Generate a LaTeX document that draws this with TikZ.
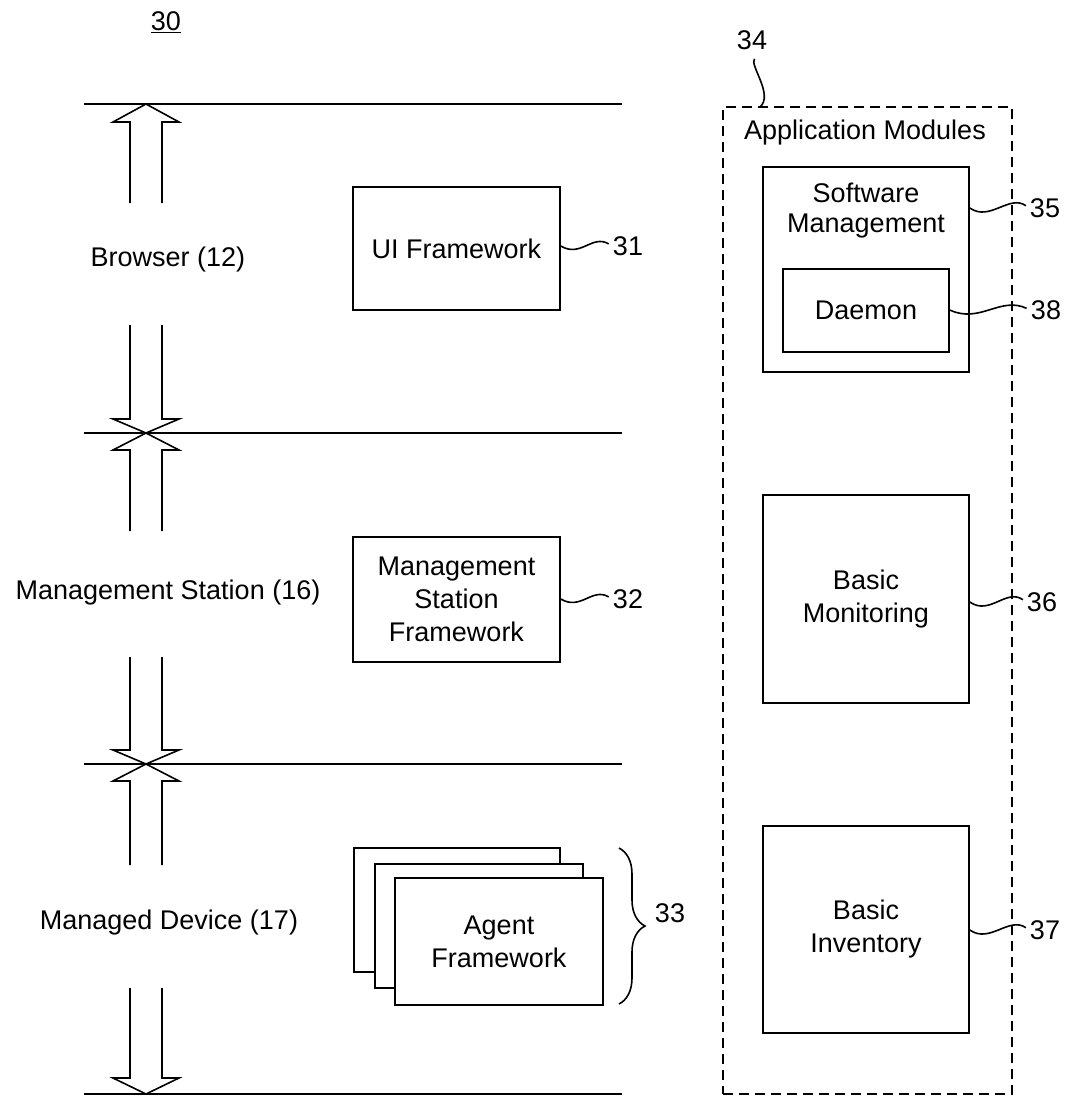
\documentclass[tikz,border=0pt]{standalone}
\usepackage{fontspec}
\setmainfont{Liberation Sans}
\usetikzlibrary{decorations.pathreplacing}
\begin{document}
\begin{tikzpicture}[x=1pt,y=-1pt,line width=1.6pt,
  lbl/.style={font=\fontsize{27}{33}\selectfont,inner sep=0pt,align=center},
  box/.style={draw,lbl,fill=white},
  num/.style={lbl},
  dbox/.style={draw,dash pattern=on 10pt off 6pt,inner sep=0pt},
  hollowarrow/.style={draw,line join=miter,fill=white},
  layerline/.style={draw},
  squig/.style={draw,shorten >=4pt}]
\useasboundingbox (0,0) rectangle (1069,1096);

% layer lines
\coordinate (l1a) at (84,104);  \coordinate (l1b) at (622,104);
\coordinate (l2a) at (84,433);  \coordinate (l2b) at (622,433);
\coordinate (l3a) at (84,764);  \coordinate (l3b) at (622,764);
\coordinate (l4a) at (84,1094); \coordinate (l4b) at (622,1094);
\path[layerline] (l1a) -- (l1b);
\path[layerline] (l2a) -- (l2b);
\path[layerline] (l3a) -- (l3b);
\path[layerline] (l4a) -- (l4b);

% hollow arrows
\path[hollowarrow] (130,203)--(130,122)--(113,122)--(146,104)--(179,122)--(162,122)--(162,203);
\path[hollowarrow] (130,325)--(130,419)--(113,419)--(146,433)--(179,419)--(162,419)--(162,325);
\path[hollowarrow] (130,531)--(130,450)--(113,450)--(146,433)--(179,450)--(162,450)--(162,531);
\path[hollowarrow] (130,657)--(130,750)--(113,750)--(146,764)--(179,750)--(162,750)--(162,657);
\path[hollowarrow] (130,865)--(130,781)--(113,781)--(146,764)--(179,781)--(162,781)--(162,865);
\path[hollowarrow] (130,988)--(130,1078)--(113,1078)--(146,1094)--(179,1078)--(162,1078)--(162,988);

% figure number
\node[num] (fig) at (166,22) {\underline{30}};

% layer labels
\node[lbl] (browser) at (168,260) {Browser (12)};
\node[lbl] (mstation) at (168,593) {Management Station (16)};
\node[lbl] (mdevice) at (169,923) {Managed Device (17)};

% frameworks
\node[box,minimum width=207pt,minimum height=123pt] (ui) at (456.5,248.5) {UI Framework};
\node[num] (n31) at (628,246) {31};
\draw[squig] (ui.east |- n31) .. controls +(20,12) and +(-20,-12) .. (n31.west);

\node[box,minimum width=207pt,minimum height=125pt] (msf) at (456.5,599.5) {Management\\Station\\Framework};
\node[num] (n32) at (628,599) {32};
\draw[squig] (msf.east |- n32) .. controls +(20,12) and +(-20,-12) .. (n32.west);

\node[box,minimum width=206pt,minimum height=124pt] (agent3) at (457,910) {};
\node[box,minimum width=208pt,minimum height=124pt] (agent2) at (479,926) {};
\node[box,minimum width=208pt,minimum height=127pt] (agent1) at (499,941.5) {Agent\\Framework};
\coordinate (br1) at (619,848);
\coordinate (br2) at (619,1004);
\draw[decorate,decoration={brace,amplitude=26pt}] (br1) -- (br2);
\node[num] (n33) at (670,913) {33};

% application modules
\node[dbox,minimum width=289pt,minimum height=987pt] (apps) at (867.5,600.5) {};
\node[lbl] (appst) at (865,133) {Application Modules};
\node[num] (n34) at (752,40) {34};
\coordinate (c34) at (760,107);
\draw[shorten <=12pt] (n34.south -| 763,0) .. controls +(-14,14) and +(14,-12) .. (c34);

\node[draw,fill=white,minimum width=206pt,minimum height=205pt] (sw) at (866,269.5) {};
\node[lbl,font=\fontsize{27}{30}\selectfont] (swt) at (866,211) {Software\\Management};
\node[box,minimum width=166pt,minimum height=83pt] (daemon) at (866,310.5) {Daemon};
\node[num] (n35) at (1045,208) {35};
\node[num] (n38) at (1046,310) {38};
\draw[squig] (sw.east |- n35) .. controls +(20,14) and +(-20,-14) .. (n35.west);
\draw[squig] (daemon.east |- n38) .. controls +(30,14) and +(-30,-14) .. (n38.west);

\node[box,minimum width=206pt,minimum height=208pt] (mon) at (866,599) {Basic\\Monitoring};
\node[num] (n36) at (1042,602) {36};
\draw[squig] (mon.east |- n36) .. controls +(20,14) and +(-20,-14) .. (n36.west);

\node[box,minimum width=206pt,minimum height=207pt] (inv) at (866,929.5) {Basic\\Inventory};
\node[num] (n37) at (1045,930) {37};
\draw[squig] (inv.east |- n37) .. controls +(20,14) and +(-20,-14) .. (n37.west);
\end{tikzpicture}
\end{document}
